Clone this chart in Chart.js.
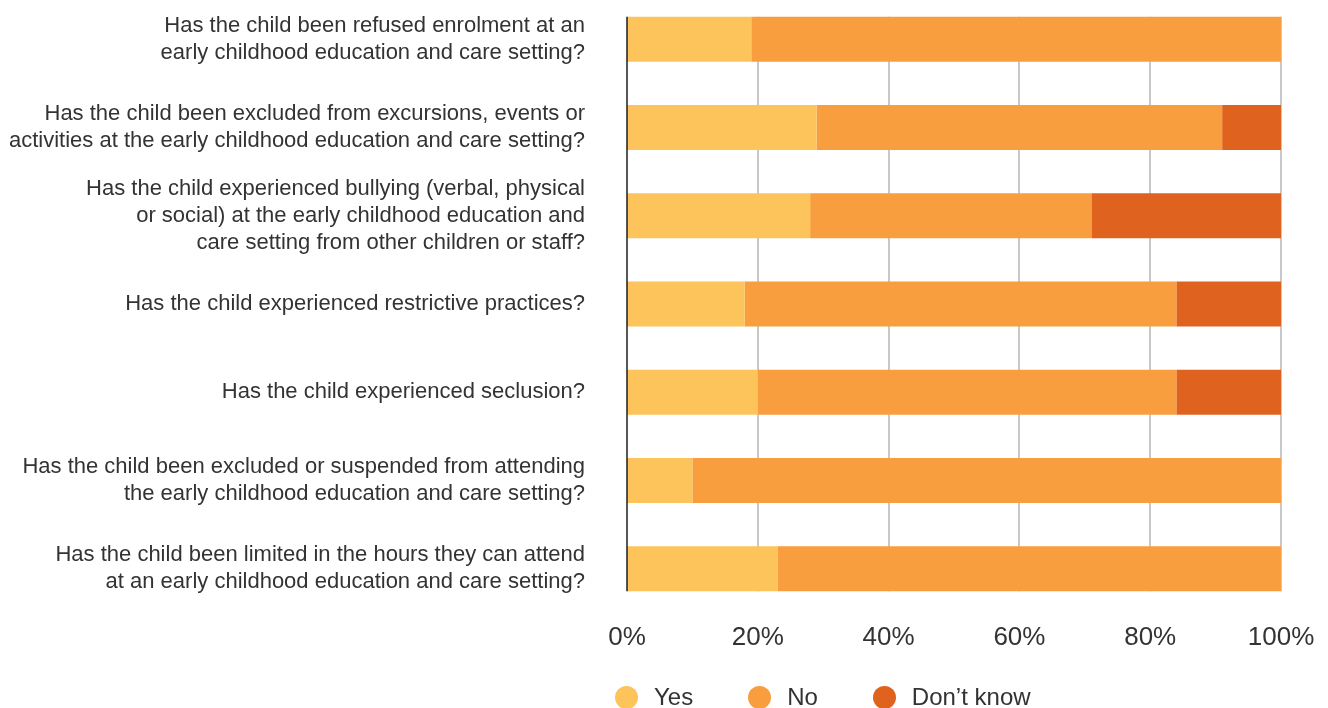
<!DOCTYPE html>
<html>
<head>
<meta charset="utf-8">
<script src="https://cdn.jsdelivr.net/npm/chart.js@4/dist/chart.umd.min.js"></script>
<style>
  html, body { margin: 0; padding: 0; background: #ffffff; overflow: hidden; }
  #wrap { position: absolute; left: 0; top: -5px; width: 1328px; height: 713px; }
  #legend {
    position: absolute; left: 615px; top: 683px; height: 28px;
    display: flex; align-items: center; gap: 55px;
    font-family: "Liberation Sans", Arial, sans-serif; font-size: 24px; color: #333;
  }
  #legend .item { display: flex; align-items: center; }
  #legend .dot { width: 23px; height: 23px; border-radius: 50%; margin-right: 16px; }
</style>
</head>
<body>
<div id="wrap"><canvas id="chart"></canvas></div>
<div id="legend"></div>
<script>
const categories = [
  ["Has the child been refused enrolment at an", "early childhood education and care setting?"],
  ["Has the child been excluded from excursions, events or", "activities at the early childhood education and care setting?"],
  ["Has the child experienced bullying (verbal, physical", "or social) at the early childhood education and", "care setting from other children or staff?"],
  ["Has the child experienced restrictive practices?"],
  ["Has the child experienced seclusion?"],
  ["Has the child been excluded or suspended from attending", "the early childhood education and care setting?"],
  ["Has the child been limited in the hours they can attend", "at an early childhood education and care setting?"]
];
const seriesNames = ["Yes", "No", "Don\u2019t know"];
const yesValues = [19, 29, 28, 18, 20, 10, 23];
const noValues = [81, 62, 43, 66, 64, 90, 77];
const dontKnowValues = [0, 9, 29, 16, 16, 0, 0];
const tickValues = [0, 20, 40, 60, 80, 100];
const seriesColors = ["#FCC45A", "#F89E3E", "#E0621F"];

const FONT = "'Liberation Sans', Arial, sans-serif";

// Vertical guides that only span the band of bars, plus the dark baseline at 0%
function barBand(chart) {
  const meta = chart.getDatasetMeta(0);
  const first = meta.data[0].getProps(["y", "height"], true);
  const last = meta.data[meta.data.length - 1].getProps(["y", "height"], true);
  return { top: first.y - first.height / 2, bottom: last.y + last.height / 2 };
}

const guidePlugin = {
  id: "guides",
  beforeDatasetsDraw(chart) {
    const band = barBand(chart);
    const x = chart.scales.x;
    const ctx = chart.ctx;
    ctx.save();
    ctx.strokeStyle = "#c8c8c8";
    ctx.lineWidth = 2;
    tickValues.slice(1).forEach(v => {
      const px = Math.round(x.getPixelForValue(v));
      ctx.beginPath();
      ctx.moveTo(px, band.top);
      ctx.lineTo(px, band.bottom);
      ctx.stroke();
    });
    ctx.restore();
  },
  afterDatasetsDraw(chart) {
    const band = barBand(chart);
    const px = chart.scales.x.getPixelForValue(0);
    const ctx = chart.ctx;
    ctx.save();
    ctx.strokeStyle = "#1e1e1e";
    ctx.lineWidth = 1.5;
    ctx.beginPath();
    ctx.moveTo(px, band.top);
    ctx.lineTo(px, band.bottom);
    ctx.stroke();
    ctx.restore();
  }
};

const chart = new Chart(document.getElementById("chart"), {
  type: "bar",
  data: {
    labels: categories,
    datasets: [
      { label: seriesNames[0], data: yesValues, backgroundColor: seriesColors[0] },
      { label: seriesNames[1], data: noValues, backgroundColor: seriesColors[1] },
      { label: seriesNames[2], data: dontKnowValues, backgroundColor: seriesColors[2] }
    ]
  },
  options: {
    indexAxis: "y",
    responsive: true,
    maintainAspectRatio: false,
    animation: false,
    layout: { padding: { left: 0, right: 47, top: 0, bottom: 0 } },
    datasets: { bar: { categoryPercentage: 1, barPercentage: 0.51, borderWidth: 0 } },
    plugins: { legend: { display: false }, tooltip: { enabled: false } },
    scales: {
      x: {
        stacked: true,
        min: 0,
        max: 100,
        grid: { display: false, drawTicks: false, tickLength: 0 },
        border: { display: false },
        afterBuildTicks(scale) { scale.ticks = tickValues.map(v => ({ value: v })); },
        afterFit(scale) { scale.height = 95; scale.paddingLeft = 0; scale.paddingRight = 0; },
        ticks: {
          padding: 9,
          color: "#333",
          font: { family: FONT, size: 26 },
          callback: v => v + "%"
        }
      },
      y: {
        stacked: true,
        grid: { display: false, drawTicks: false, tickLength: 0 },
        border: { display: false },
        afterFit(scale) { scale.width = 627; scale.paddingTop = 0; scale.paddingBottom = 0; },
        ticks: {
          autoSkip: false,
          padding: 42,
          color: "#333",
          font: { family: FONT, size: 22, lineHeight: 1.23 }
        }
      }
    }
  },
  plugins: [guidePlugin]
});

// Legend built from the chart's datasets
const legendEl = document.getElementById("legend");
chart.data.datasets.forEach(ds => {
  const item = document.createElement("div");
  item.className = "item";
  const dot = document.createElement("span");
  dot.className = "dot";
  dot.style.background = ds.backgroundColor;
  const txt = document.createElement("span");
  txt.textContent = ds.label;
  item.appendChild(dot);
  item.appendChild(txt);
  legendEl.appendChild(item);
});
</script>
</body>
</html>
